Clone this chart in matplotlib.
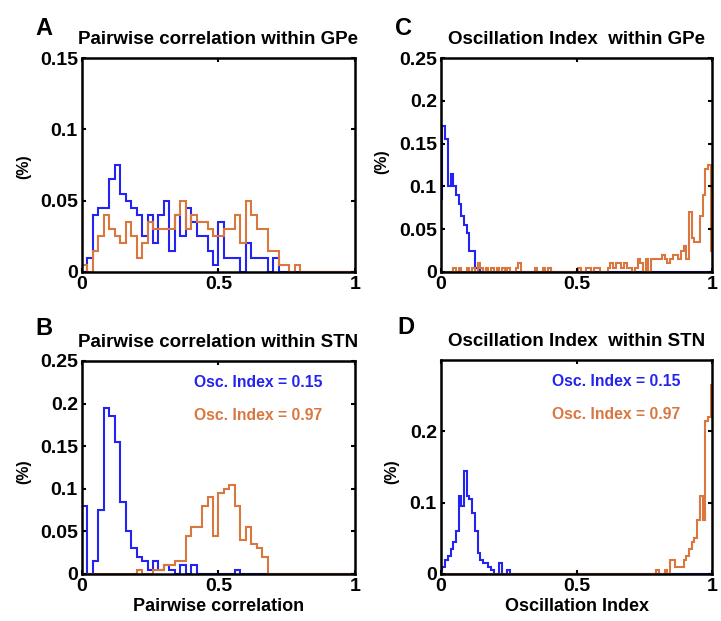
import numpy as np
import matplotlib
matplotlib.use('Agg')
import matplotlib.pyplot as plt

plt.rcParams['font.family'] = ['Liberation Sans', 'DejaVu Sans']
plt.rcParams['font.weight'] = 'bold'

#%% data (histogram heights)
# A: pairwise correlation within GPe, 0.02 bins from 0
gpe_corr_low = [0, 0.01, 0.04, 0.045, 0.045, 0.065, 0.075, 0.055, 0.05, 0.045,
                0.04, 0.025, 0.04, 0.02, 0.04, 0.05, 0.015, 0.04, 0.025, 0.045,
                0.035, 0.025, 0.025, 0.015, 0.005, 0.035, 0.01, 0.01, 0.01, 0,
                0.02, 0.01, 0.01, 0.01, 0, 0.01, 0, 0, 0, 0,
                0, 0, 0, 0, 0, 0, 0, 0, 0, 0]
gpe_corr_high = [0.005, 0, 0.015, 0.025, 0.04, 0.03, 0.025, 0.02, 0.035, 0.025,
                 0.01, 0.02, 0.035, 0.03, 0.03, 0.03, 0.03, 0.04, 0.05, 0.03,
                 0.04, 0.035, 0.035, 0.03, 0.025, 0.025, 0.03, 0.03, 0.04, 0.02,
                 0.05, 0.04, 0.03, 0.03, 0.015, 0.015, 0.005, 0.005, 0, 0.005,
                 0, 0, 0, 0, 0, 0, 0, 0, 0, 0]

# B: pairwise correlation within STN, 0.02 bins from 0
stn_corr_low = [0.08, 0, 0.015, 0.075, 0.195, 0.185, 0.155, 0.085, 0.05, 0.03,
                0.02, 0.015, 0.005, 0.015, 0.005, 0.01, 0.005, 0, 0.01, 0,
                0.01, 0, 0, 0, 0, 0, 0, 0, 0.005, 0,
                0, 0, 0, 0, 0, 0, 0, 0, 0, 0,
                0, 0, 0, 0, 0, 0, 0, 0, 0, 0]
stn_corr_high = [0, 0, 0, 0, 0, 0, 0, 0, 0, 0,
                 0.005, 0, 0, 0.005, 0.005, 0.01, 0.01, 0.015, 0.015, 0.045,
                 0.055, 0.055, 0.08, 0.09, 0.045, 0.095, 0.1, 0.105, 0.08, 0.04,
                 0.055, 0.035, 0.03, 0.02, 0, 0, 0, 0, 0, 0,
                 0, 0, 0, 0, 0, 0, 0, 0, 0, 0]

# C: oscillation index within GPe, 0.01 bins centred on 0, 0.01, ... 1
gpe_osc_low = [0.085, 0.17, 0.155, 0.1, 0.115, 0.1, 0.09, 0.08, 0.065, 0.055,
               0.045, 0.025, 0.025, 0.005, 0.005] + [0] * 86
gpe_osc_high = [0, 0, 0, 0, 0, 0.005, 0, 0.005, 0, 0,
                0.005, 0, 0.005, 0, 0.01, 0.005, 0, 0.005, 0, 0.005,
                0, 0.005, 0, 0.005, 0, 0.005, 0, 0, 0.005, 0.01,
                0, 0, 0, 0, 0, 0.005, 0, 0, 0.005, 0,
                0.005, 0, 0, 0, 0, 0, 0, 0, 0, 0,
                0, 0.005, 0, 0, 0.005, 0.005, 0, 0.005, 0.005, 0,
                0, 0, 0.005, 0.01, 0.005, 0.01, 0.01, 0.005, 0.01, 0.005,
                0.005, 0, 0.005, 0.015, 0.01, 0, 0.015, 0, 0.015, 0.015,
                0.015, 0.015, 0.02, 0.015, 0.01, 0.015, 0.02, 0.02, 0.015, 0.025,
                0.03, 0.015, 0.07, 0.04, 0.035, 0.035, 0.065, 0.09, 0.12, 0.125,
                0.025]

# D: oscillation index within STN, 0.01 bins centred on 0, 0.01, ... 1
stn_osc_low = [0.005, 0.01, 0.02, 0.025, 0.035, 0.045, 0.06, 0.11, 0.095, 0.145,
               0.11, 0.105, 0.085, 0.06, 0.03, 0.02, 0.015, 0.015, 0.01, 0.005,
               0, 0, 0.015, 0, 0, 0.005] + [0] * 75
stn_osc_high = [0] * 80 + [0.005, 0, 0, 0.005, 0, 0.02, 0.02, 0.01, 0.01, 0.01,
                           0.02, 0.025, 0.035, 0.045, 0.05, 0.075, 0.11, 0.075,
                           0.215, 0.22, 0.265]

label_low = 'Osc. Index = 0.15'
label_high = 'Osc. Index = 0.97'

blue = '#2424f0'
orange = '#d9773f'

#%% figure
fig = plt.figure(figsize=(7.21, 6.21), dpi=100)
axA = fig.add_axes([0.1137, 0.5620, 0.3787, 0.3446])
axC = fig.add_axes([0.6117, 0.5620, 0.3759, 0.3446])
axB = fig.add_axes([0.1137, 0.0757, 0.3787, 0.3430])
axD = fig.add_axes([0.6117, 0.0757, 0.3759, 0.3446])

corr_edges = np.arange(51) * 0.02
osc_edges = (np.arange(102) - 0.5) * 0.01

panels = [
    (axA, corr_edges, gpe_corr_low, gpe_corr_high, 'Pairwise correlation within GPe',
     [0, 0.05, 0.1, 0.15], ['0', '0.05', '0.1', '0.15'], 0.15),
    (axB, corr_edges, stn_corr_low, stn_corr_high, 'Pairwise correlation within STN',
     [0, 0.05, 0.1, 0.15, 0.2, 0.25], ['0', '0.05', '0.1', '0.15', '0.2', '0.25'], 0.25),
    (axC, osc_edges, gpe_osc_low, gpe_osc_high, 'Oscillation Index  within GPe',
     [0, 0.05, 0.1, 0.15, 0.2, 0.25], ['0', '0.05', '0.1', '0.15', '0.2', '0.25'], 0.25),
    (axD, osc_edges, stn_osc_low, stn_osc_high, 'Oscillation Index  within STN',
     [0, 0.1, 0.2], ['0', '0.1', '0.2'], 0.3),
]

for ax, edges, low, high, title, yt, ytl, ymax in panels:
    ax.stairs(low, edges, color=blue, lw=1.5, baseline=0)
    ax.stairs(high, edges, color=orange, lw=1.5, baseline=0)
    ax.set_xlim(0, 1)
    ax.set_ylim(0, ymax)
    ax.set_xticks([0, 0.5, 1])
    ax.set_xticklabels(['0', '0.5', '1'])
    ax.set_yticks(yt)
    ax.set_yticklabels(ytl)
    ax.tick_params(direction='in', length=3, width=1.5, top=True, right=True,
                   labelsize=14, pad=3)
    for s in ax.spines.values():
        s.set_linewidth(1.8)
    ax.set_title(title, fontsize=13.5, fontweight='bold', pad=10)

for ax in (axB, axD):
    ax.text(0.41, 0.90, label_low, color=blue, fontsize=11.3, fontweight='bold',
            transform=ax.transAxes, va='center')
    ax.text(0.41, 0.745, label_high, color=orange, fontsize=11.3, fontweight='bold',
            transform=ax.transAxes, va='center')

axB.set_xlabel('Pairwise correlation', fontsize=13, fontweight='bold', labelpad=2)
axD.set_xlabel('Oscillation Index', fontsize=13, fontweight='bold', labelpad=2)

# panel letters and y labels
for letter, x, y in [('A', 35, 28.5), ('C', 395, 28.5), ('B', 35, 328.5), ('D', 397, 328)]:
    fig.text(x / 721, 1 - y / 621, letter, fontsize=17, fontweight='bold',
             ha='left', va='center')
for x, y in [(23.5, 167), (382, 162), (24, 472), (392, 472)]:
    fig.text(x / 721, 1 - y / 621, '(%)', fontsize=11.5, fontweight='bold',
             rotation=90, ha='center', va='center')

plt.savefig('out.png', dpi=100)
